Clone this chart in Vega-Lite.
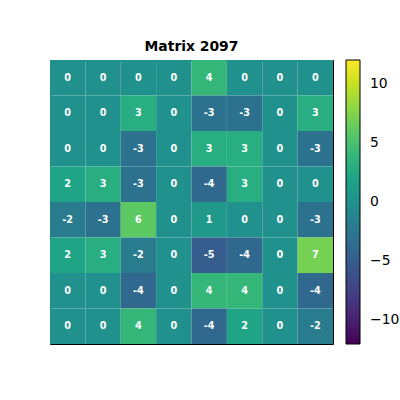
{
  "$schema": "https://vega.github.io/schema/vega-lite/v6.json",
  "width": 283,
  "height": 284,
  "autosize": {"type": "none"},
  "padding": {"left": 50, "top": 60, "right": 67, "bottom": 56},
  "background": "white",
  "title": {
    "text": "Matrix 2097",
    "font": "DejaVu Sans",
    "fontSize": 13.9,
    "fontWeight": "bold",
    "color": "black",
    "anchor": "middle",
    "offset": 6
  },
  "data": {
    "values": [
      {"row": 0, "col": 0, "value": 0}, {"row": 0, "col": 1, "value": 0}, {"row": 0, "col": 2, "value": 0}, {"row": 0, "col": 3, "value": 0},
      {"row": 0, "col": 4, "value": 4}, {"row": 0, "col": 5, "value": 0}, {"row": 0, "col": 6, "value": 0}, {"row": 0, "col": 7, "value": 0},
      {"row": 1, "col": 0, "value": 0}, {"row": 1, "col": 1, "value": 0}, {"row": 1, "col": 2, "value": 3}, {"row": 1, "col": 3, "value": 0},
      {"row": 1, "col": 4, "value": -3}, {"row": 1, "col": 5, "value": -3}, {"row": 1, "col": 6, "value": 0}, {"row": 1, "col": 7, "value": 3},
      {"row": 2, "col": 0, "value": 0}, {"row": 2, "col": 1, "value": 0}, {"row": 2, "col": 2, "value": -3}, {"row": 2, "col": 3, "value": 0},
      {"row": 2, "col": 4, "value": 3}, {"row": 2, "col": 5, "value": 3}, {"row": 2, "col": 6, "value": 0}, {"row": 2, "col": 7, "value": -3},
      {"row": 3, "col": 0, "value": 2}, {"row": 3, "col": 1, "value": 3}, {"row": 3, "col": 2, "value": -3}, {"row": 3, "col": 3, "value": 0},
      {"row": 3, "col": 4, "value": -4}, {"row": 3, "col": 5, "value": 3}, {"row": 3, "col": 6, "value": 0}, {"row": 3, "col": 7, "value": 0},
      {"row": 4, "col": 0, "value": -2}, {"row": 4, "col": 1, "value": -3}, {"row": 4, "col": 2, "value": 6}, {"row": 4, "col": 3, "value": 0},
      {"row": 4, "col": 4, "value": 1}, {"row": 4, "col": 5, "value": 0}, {"row": 4, "col": 6, "value": 0}, {"row": 4, "col": 7, "value": -3},
      {"row": 5, "col": 0, "value": 2}, {"row": 5, "col": 1, "value": 3}, {"row": 5, "col": 2, "value": -2}, {"row": 5, "col": 3, "value": 0},
      {"row": 5, "col": 4, "value": -5}, {"row": 5, "col": 5, "value": -4}, {"row": 5, "col": 6, "value": 0}, {"row": 5, "col": 7, "value": 7},
      {"row": 6, "col": 0, "value": 0}, {"row": 6, "col": 1, "value": 0}, {"row": 6, "col": 2, "value": -4}, {"row": 6, "col": 3, "value": 0},
      {"row": 6, "col": 4, "value": 4}, {"row": 6, "col": 5, "value": 4}, {"row": 6, "col": 6, "value": 0}, {"row": 6, "col": 7, "value": -4},
      {"row": 7, "col": 0, "value": 0}, {"row": 7, "col": 1, "value": 0}, {"row": 7, "col": 2, "value": 4}, {"row": 7, "col": 3, "value": 0},
      {"row": 7, "col": 4, "value": -4}, {"row": 7, "col": 5, "value": 2}, {"row": 7, "col": 6, "value": 0}, {"row": 7, "col": 7, "value": -2}
    ]
  },
  "encoding": {
    "x": {"field": "col", "type": "ordinal", "axis": null, "scale": {"paddingInner": 0, "paddingOuter": 0}},
    "y": {"field": "row", "type": "ordinal", "axis": null, "scale": {"paddingInner": 0, "paddingOuter": 0}}
  },
  "layer": [
    {
      "mark": {"type": "rect"},
      "encoding": {
        "color": {
          "field": "value",
          "type": "quantitative",
          "scale": {"scheme": "viridis", "domain": [-12, 12]},
          "legend": {
            "title": null,
            "orient": "right",
            "offset": 13,
            "gradientLength": 284,
            "gradientThickness": 14,
            "gradientStrokeColor": "black",
            "gradientStrokeWidth": 1,
            "values": [-10, -5, 0, 5, 10],
            "labelFont": "DejaVu Sans",
            "labelFontSize": 13.9,
            "labelColor": "black",
            "labelOffset": 10
          }
        }
      }
    },
    {
      "mark": {"type": "text", "color": "white", "font": "DejaVu Sans", "fontSize": 9.7, "fontWeight": "bold"},
      "encoding": {
        "text": {"field": "value", "type": "nominal"}
      }
    }
  ],
  "config": {
    "view": {"stroke": "black", "strokeWidth": 1}
  }
}
